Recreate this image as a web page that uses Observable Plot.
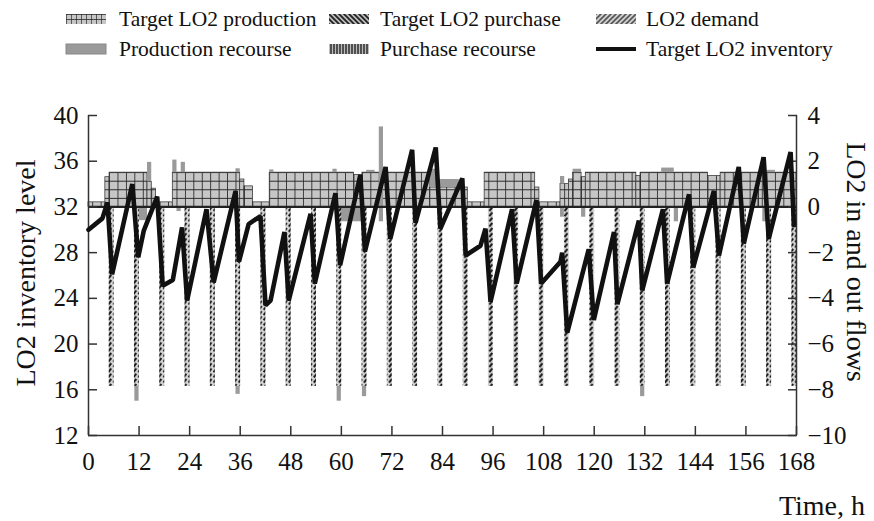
<!DOCTYPE html>
<html><head><meta charset="utf-8">
<script src="https://cdn.jsdelivr.net/npm/d3@7"></script>
<script src="https://cdn.jsdelivr.net/npm/@observablehq/plot@0.6"></script>
<style>
body{margin:0;background:#fff;}
#wrap{position:relative;width:874px;height:521px;overflow:hidden;font-family:"Liberation Serif","Times New Roman",serif;color:#111;}
#legend{position:absolute;left:0;top:0;}
.chart{position:absolute;left:0;top:70px;}
.axtitle{position:absolute;font-size:28px;line-height:1.15;white-space:nowrap;}
</style></head>
<body><div id="wrap">
<svg width="0" height="0" style="position:absolute"><defs id="defs"></defs></svg>
<svg id="legend" width="874" height="70"></svg>
<div id="flows" class="chart"></div>
<div id="inv" class="chart"></div>
<div class="axtitle" id="ylabL" style="left:26px;top:273px;transform:translate(-50%,-50%) rotate(-90deg);">LO2 inventory level</div>
<div class="axtitle" id="ylabR" style="left:856px;top:262px;transform:translate(-50%,-50%) rotate(90deg);">LO2 in and out flows</div>
<div class="axtitle" id="xlab" style="right:9px;top:490px;">Time, h</div>
</div>
<script>
// ---------- data ----------
const xTicks = [0,12,24,36,48,60,72,84,96,108,120,132,144,156,168];
const leftTicks = [12,16,20,24,28,32,36,40];
const rightTicks = [-10,-8,-6,-4,-2,0,2,4];

// Target LO2 production (hour blocks, right axis)
const prodStart = [0,4,5,14,15,16,20,36,37,39,43,63,65,81,90,94,106,107,112,114,115,117,118,130,131,147,150,159,160];
const prodEnd   = [4,5,14,15,16,20,36,37,39,43,63,65,81,90,94,106,107,112,114,115,117,118,130,131,147,150,159,160,168];
const prodLevel = [0.2,1.3,1.5,1.1,0.8,0.2,1.5,1.2,0.9,0.2,1.5,1.4,1.5,0.85,0.2,1.5,0.85,0.2,1.0,1.2,1.5,1.3,1.5,1.35,1.5,1.35,1.5,1.35,1.5];

// LO2 demand (hour bars, right axis)
const demandHour  = [5,11,17,23,29,35,41,47,53,59,65,71,77,83,89,95,101,107,113,119,125,131,137,143,149,155,161,167];
const demandValue = [-7.85,-7.85,-7.85,-7.85,-7.85,-7.85,-7.85,-7.85,-7.85,-7.85,-7.85,-7.85,-7.85,-7.85,-7.85,-7.85,-7.85,-7.85,-7.85,-7.85,-7.85,-7.85,-7.85,-7.85,-7.85,-7.85,-7.85,-7.85];

// Production recourse (floating bars, right axis)
const recStart = [14,20,22,12,11,21,35,35,43,58,60,59,65,69,66,81,83,112,115,112,117,131,136,139,160,161];
const recEnd   = [15,21,23,14,12,22,36,36,44,59,65,60,66,70,68,83,88,113,117,114,118,132,139,140,161,163];
const recLow   = [1.1,1.5,1.5,-0.6,-8.5,-0.2,1.5,-8.2,1.5,1.5,-0.65,-8.5,-8.3,-0.65,1.5,0.85,0.85,1.0,1.5,-0.45,-0.45,-8.3,1.5,-0.65,-0.65,1.5];
const recHigh  = [1.95,2.05,1.95,0,-7.85,0,1.67,-7.85,1.62,1.65,0,-7.85,-7.85,3.5,1.6,1.65,1.2,1.33,1.65,0,0,-7.85,1.7,0,0,1.6];

// Target LO2 inventory (left axis)
const invTime  = [0,3.3,4.5,5.6,10.4,11.8,13.1,16.3,17.6,20.0,22.2,23.4,28.0,29.7,34.9,35.7,38.0,40.8,42.0,43.2,46.5,47.5,52.7,53.7,58.6,59.7,64.5,65.6,70.5,71.6,76.8,77.6,82.4,83.5,88.7,89.5,93.0,94.2,95.4,100.5,101.6,106.3,107.4,112.0,112.4,113.6,118.7,119.9,124.7,125.5,130.6,131.4,136.3,137.3,142.5,143.5,148.4,149.6,154.3,155.5,160.2,161.4,166.6,167.4];
const invLevel = [30.0,31.0,32.4,26.1,34.0,27.6,29.9,32.9,25.1,25.6,30.2,23.8,31.8,25.4,33.4,27.2,30.5,31.2,23.4,23.8,29.8,23.8,31.4,25.3,33.2,26.9,34.8,28.1,35.5,29.2,37.0,30.6,37.2,30.1,34.5,27.75,28.6,30.1,23.7,31.8,25.3,32.6,25.3,27.2,28.0,21.0,28.3,22.1,29.8,23.5,30.8,24.7,31.8,25.3,33.1,26.7,33.4,27.75,35.5,28.8,36.35,29.2,36.8,30.4];

const legendLabels = [["Target LO2 production","Target LO2 purchase","LO2 demand"],["Production recourse","Purchase recourse","Target LO2 inventory"]];

// ---------- tables ----------
const prod = prodStart.map((s,i)=>({s, e:prodEnd[i], v:prodLevel[i]}));
const demand = demandHour.map((h,i)=>({s:h, e:h+1, v:demandValue[i]}));
const rec = recStart.map((s,i)=>({s, e:recEnd[i], lo:recLow[i], hi:recHigh[i]}));
const inv = invTime.map((t,i)=>({t, v:invLevel[i]}));

const W=874, H=451, MT=45, MB=86, ML=88, MR=78;
const font = '"Liberation Serif","Times New Roman",serif';
const style = {fontFamily:font, fontSize:"25px", color:"#111", background:"transparent", overflow:"visible"};

const flows = Plot.plot({
  width:W, height:H, marginTop:MT, marginBottom:MB, marginLeft:ML, marginRight:MR,
  style,
  x:{domain:[0,168]},
  y:{domain:[-10,4]},
  marks:[
    Plot.rect(prod, {x1:"s", x2:"e", y1:0, y2:"v", fill:"url(#pgrid)", stroke:"#2a2a2a", strokeWidth:0.7}),
    Plot.rect(rec, {x1:"s", x2:"e", y1:"lo", y2:"hi", fill:"#9a9a9a"}),
    Plot.rect(demand, {x1:"s", x2:"e", y1:0, y2:"v", fill:"url(#pdemand)", insetLeft:-0.4, insetRight:-0.4}),
    Plot.ruleY([0], {stroke:"#222", strokeWidth:2.2}),
    Plot.ruleX([0,168], {stroke:"#333", strokeWidth:1.5}),
    Plot.ruleY([-10], {stroke:"#333", strokeWidth:1.5}),
    Plot.axisY(rightTicks, {anchor:"right", tickSize:-9, tickPadding:20, label:null, stroke:"#333", strokeWidth:1.5}),
    Plot.axisX(xTicks, {anchor:"bottom", tickSize:-9, tickPadding:26, label:null, stroke:"#333", strokeWidth:1.5})
  ]
});
document.getElementById("flows").append(flows);

const invChart = Plot.plot({
  width:W, height:H, marginTop:MT, marginBottom:MB, marginLeft:ML, marginRight:MR,
  style,
  x:{domain:[0,168], axis:null},
  y:{domain:[12,40]},
  marks:[
    Plot.line(inv, {x:"t", y:"v", stroke:"#111", strokeWidth:4.6, strokeLinejoin:"miter"}),
    Plot.axisY(leftTicks, {anchor:"left", tickSize:-9, tickPadding:19, label:null, stroke:"#333", strokeWidth:1.5})
  ]
});
document.getElementById("inv").append(invChart);

// ---------- patterns aligned to the scales ----------
const xs = flows.scale("x"), ys = flows.scale("y");
const hp = xs.apply(1) - xs.apply(0);
const y0 = ys.apply(0);
const up = ys.apply(0) - ys.apply(1);
const defs = d3.select("#defs");
function pat(id, x, y, w, h, bg, path, sw, col){
  const p = defs.append("pattern").attr("id", id).attr("patternUnits","userSpaceOnUse")
    .attr("x", x).attr("y", y).attr("width", w).attr("height", h);
  p.append("rect").attr("width", w).attr("height", h).attr("fill", bg);
  if (path) p.append("path").attr("d", path).attr("stroke", col||"#222").attr("stroke-width", sw).attr("fill","none");
}
const gw = 2*hp, gh = 1.5*up/4;
pat("pgrid", xs.apply(1), y0, gw, gh, "#c6c6c6", `M0,0H${gw}M0,0V${gh}`, 1.7, "#262626");
pat("pdemand", xs.apply(0) - 0.4, y0, hp + 0.8, 5.2, "#d4d4d4", `M${hp*0.15},4.6L${hp*0.85},0.8`, 2.0, "#151515");
// legend patterns
pat("lgrid", 66, 14, 5, 5, "#c6c6c6", "M0,0H5M0,0V5", 1.3, "#222");
pat("lpurch", 0, 0, 5, 5, "#bdbdbd", "M-1,-1L6,6M-1,4L1,6M4,-1L6,1", 1.8, "#222");
pat("ldemand", 0, 0, 5, 5, "#d0d0d0", "M-1,6L6,-1M-1,1L1,-1M4,6L6,4", 1.6, "#555");
pat("lpurrec", 0, 0, 3, 5, "#bbbbbb", "M1,0V5", 1.4, "#222");

// ---------- legend ----------
const lg = d3.select("#legend");
const colSw = [66, 329, 596], colTx = [119, 380, 646], rowY = [14, 44], rowBase = [26, 56];
const fills = [["url(#lgrid)","url(#lpurch)","url(#ldemand)"],["#9a9a9a","url(#lpurrec)",null]];
legendLabels.forEach((row, r) => row.forEach((lab, c) => {
  const f = fills[r][c];
  if (f) lg.append("rect").attr("x", colSw[c]).attr("y", rowY[r]).attr("width", 40).attr("height", 10)
      .attr("fill", f).attr("stroke", r===1&&c===0 ? "#888" : "none");
  else lg.append("line").attr("x1", colSw[c]).attr("x2", colSw[c]+40).attr("y1", rowY[r]+5).attr("y2", rowY[r]+5)
      .attr("stroke", "#111").attr("stroke-width", 4);
  lg.append("text").attr("x", colTx[c]).attr("y", rowBase[r]).attr("font-family", font)
    .attr("font-size", 21.5).attr("fill", "#111").text(lab);
}));
</script>
</body></html>
